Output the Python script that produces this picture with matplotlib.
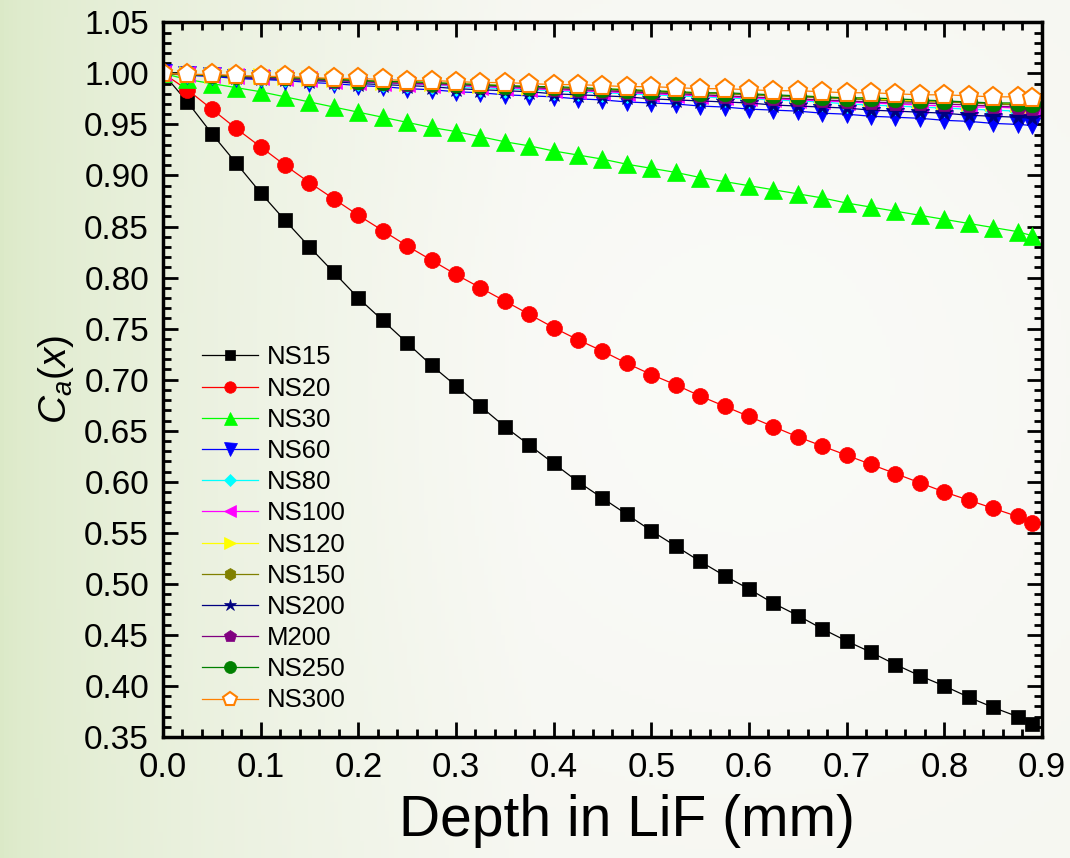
import numpy as np
import matplotlib
matplotlib.use("Agg")
import matplotlib.pyplot as plt
from matplotlib.ticker import MultipleLocator, FormatStrFormatter

plt.rcParams['font.family'] = ['Liberation Sans', 'DejaVu Sans']
plt.rcParams['mathtext.fontset'] = 'custom'
plt.rcParams['mathtext.rm'] = 'Liberation Sans'
plt.rcParams['mathtext.it'] = 'Liberation Sans:italic'

# depth grid (mm)
depth = [0.000, 0.025, 0.050, 0.075, 0.100, 0.125, 0.150, 0.175, 0.200,
         0.225, 0.250, 0.275, 0.300, 0.325, 0.350, 0.375, 0.400, 0.425,
         0.450, 0.475, 0.500, 0.525, 0.550, 0.575, 0.600, 0.625, 0.650,
         0.675, 0.700, 0.725, 0.750, 0.775, 0.800, 0.825, 0.850, 0.875,
         0.890]

ns15 = [1.000, 0.972, 0.941, 0.912, 0.883, 0.856, 0.830, 0.805, 0.780,
        0.758, 0.736, 0.714, 0.694, 0.674, 0.654, 0.636, 0.618, 0.600,
        0.584, 0.568, 0.552, 0.537, 0.522, 0.508, 0.495, 0.481, 0.469,
        0.456, 0.444, 0.433, 0.421, 0.410, 0.400, 0.389, 0.379, 0.370,
        0.363]
ns20 = [1.000, 0.984, 0.965, 0.946, 0.928, 0.910, 0.893, 0.877, 0.861,
        0.846, 0.831, 0.817, 0.803, 0.790, 0.777, 0.764, 0.751, 0.739,
        0.728, 0.716, 0.705, 0.695, 0.684, 0.674, 0.664, 0.654, 0.644,
        0.635, 0.626, 0.617, 0.608, 0.599, 0.590, 0.582, 0.574, 0.566,
        0.560]
ns30 = [1.000, 0.994, 0.990, 0.986, 0.982, 0.977, 0.972, 0.967, 0.962,
        0.957, 0.952, 0.947, 0.943, 0.938, 0.933, 0.929, 0.924, 0.920,
        0.916, 0.911, 0.907, 0.903, 0.898, 0.894, 0.890, 0.886, 0.882,
        0.878, 0.873, 0.869, 0.865, 0.861, 0.857, 0.853, 0.849, 0.845,
        0.841]
ns60 = [1.000, 0.998, 0.997, 0.995, 0.994, 0.993, 0.991, 0.990, 0.988,
        0.987, 0.985, 0.984, 0.982, 0.981, 0.979, 0.978, 0.977, 0.975,
        0.974, 0.972, 0.971, 0.970, 0.968, 0.967, 0.965, 0.964, 0.963,
        0.961, 0.960, 0.958, 0.957, 0.956, 0.954, 0.953, 0.951, 0.950,
        0.949]
ns80 = [1.000, 0.999, 0.998, 0.997, 0.996, 0.995, 0.994, 0.993, 0.992,
        0.991, 0.990, 0.989, 0.987, 0.986, 0.985, 0.984, 0.983, 0.982,
        0.981, 0.980, 0.979, 0.978, 0.977, 0.976, 0.975, 0.974, 0.973,
        0.972, 0.970, 0.969, 0.968, 0.967, 0.966, 0.965, 0.964, 0.963,
        0.962]
ns100 = [1.000, 0.999, 0.998, 0.997, 0.996, 0.995, 0.994, 0.993, 0.992,
         0.991, 0.990, 0.989, 0.988, 0.987, 0.986, 0.985, 0.984, 0.983,
         0.982, 0.981, 0.980, 0.979, 0.978, 0.977, 0.976, 0.975, 0.974,
         0.973, 0.972, 0.971, 0.970, 0.969, 0.968, 0.967, 0.967, 0.966,
         0.965]
ns120 = [1.000, 0.999, 0.998, 0.997, 0.997, 0.996, 0.995, 0.994, 0.993,
         0.992, 0.991, 0.991, 0.990, 0.989, 0.988, 0.987, 0.986, 0.985,
         0.985, 0.984, 0.983, 0.982, 0.981, 0.980, 0.979, 0.978, 0.978,
         0.977, 0.976, 0.975, 0.974, 0.973, 0.972, 0.971, 0.971, 0.970,
         0.969]
ns150 = [1.000, 0.999, 0.998, 0.997, 0.996, 0.996, 0.995, 0.994, 0.993,
         0.992, 0.991, 0.990, 0.989, 0.988, 0.988, 0.987, 0.986, 0.985,
         0.984, 0.983, 0.982, 0.981, 0.980, 0.980, 0.979, 0.978, 0.977,
         0.976, 0.975, 0.974, 0.973, 0.972, 0.972, 0.971, 0.970, 0.969,
         0.968]
ns200 = [1.000, 0.999, 0.998, 0.996, 0.995, 0.994, 0.993, 0.992, 0.990,
         0.989, 0.988, 0.987, 0.985, 0.984, 0.983, 0.982, 0.980, 0.979,
         0.978, 0.977, 0.975, 0.974, 0.973, 0.972, 0.971, 0.969, 0.968,
         0.967, 0.966, 0.964, 0.963, 0.962, 0.961, 0.959, 0.958, 0.957,
         0.956]
m200 = [1.000, 0.999, 0.998, 0.997, 0.996, 0.995, 0.994, 0.993, 0.992,
        0.991, 0.990, 0.990, 0.989, 0.988, 0.987, 0.986, 0.985, 0.984,
        0.983, 0.982, 0.981, 0.980, 0.979, 0.978, 0.977, 0.976, 0.975,
        0.974, 0.973, 0.972, 0.971, 0.971, 0.970, 0.969, 0.968, 0.967,
        0.966]
ns250 = [1.000, 0.999, 0.998, 0.997, 0.997, 0.996, 0.995, 0.994, 0.993,
         0.992, 0.992, 0.991, 0.990, 0.989, 0.988, 0.987, 0.987, 0.986,
         0.985, 0.984, 0.983, 0.982, 0.981, 0.981, 0.980, 0.979, 0.978,
         0.977, 0.976, 0.976, 0.975, 0.974, 0.973, 0.972, 0.971, 0.971,
         0.970]
ns300 = [1.000, 0.999, 0.999, 0.998, 0.997, 0.997, 0.996, 0.995, 0.995,
         0.994, 0.993, 0.993, 0.992, 0.991, 0.991, 0.990, 0.989, 0.989,
         0.988, 0.987, 0.987, 0.986, 0.985, 0.985, 0.984, 0.983, 0.983,
         0.982, 0.981, 0.981, 0.980, 0.979, 0.979, 0.978, 0.977, 0.977,
         0.976]

# (label, values, color, marker, size, face)
series = [
    ("NS15", ns15, "black", "s", 10, None),
    ("NS20", ns20, "red", "o", 11.5, None),
    ("NS30", ns30, "#00ff00", "^", 13, None),
    ("NS60", ns60, "blue", "v", 13, None),
    ("NS80", ns80, "cyan", "D", 9, None),
    ("NS100", ns100, "magenta", "<", 12, None),
    ("NS120", ns120, "yellow", ">", 12, None),
    ("NS150", ns150, "#808000", "h", 12, None),
    ("NS200", ns200, "#000080", "*", 13, None),
    ("M200", m200, "#800080", "p", 13, None),
    ("NS250", ns250, "#008000", "o", 12, None),
    ("NS300", ns300, "#ff8000", "p", 14, "white"),
]

fig = plt.figure(figsize=(10.70, 8.58), dpi=100)

# soft green slide background
bg = fig.add_axes([0, 0, 1, 1], zorder=-5)
h, w = 200, 250
gx, gy = np.meshgrid(np.linspace(0, 1, w), np.linspace(0, 1, h))
t = np.clip(gx / 0.5, 0, 1) ** 0.6
left = np.array([0.86, 0.915, 0.78])
right = np.array([0.965, 0.968, 0.945])
img = left[None, None, :] * (1 - t[..., None]) + right[None, None, :] * t[..., None]
glow = np.exp(-(((gx - 0.7) / 0.35) ** 2 + ((gy - 0.45) / 0.45) ** 2))
img = img + (1 - img) * 0.45 * glow[..., None]
bg.imshow(np.clip(img, 0, 1), aspect='auto', extent=[0, 1, 0, 1])
bg.axis('off')

ax = fig.add_axes([0.1523, 0.141, 0.8215, 0.833])
ax.set_facecolor('none')

for label, vals, color, marker, ms, face in series:
    ax.plot(depth, vals, color=color, lw=0.9, marker=marker, ms=ms,
            mfc=face if face else color, mec=color,
            mew=1.5 if face else 0.5, label=label)

ax.set_xlim(0, 0.9)
ax.set_ylim(0.35, 1.05)
ax.xaxis.set_major_locator(MultipleLocator(0.1))
ax.xaxis.set_minor_locator(MultipleLocator(0.02))
ax.yaxis.set_major_locator(MultipleLocator(0.05))
ax.yaxis.set_minor_locator(MultipleLocator(0.01))
ax.xaxis.set_major_formatter(FormatStrFormatter('%.1f'))
ax.yaxis.set_major_formatter(FormatStrFormatter('%.2f'))

ax.tick_params(which='both', direction='in', top=True, right=True, width=2)
ax.tick_params(which='major', length=11)
ax.tick_params(which='minor', length=6)
ax.tick_params(axis='y', labelsize=24, pad=10)
ax.tick_params(axis='x', labelsize=25, pad=10)
for sp in ax.spines.values():
    sp.set_linewidth(2.5)

ax.set_xlabel("Depth in LiF (mm)", fontsize=41)
ax.xaxis.set_label_coords(0.528, -0.08, transform=ax.transAxes)
ax.xaxis.label.set_va('top')
ax.set_ylabel(r"$C_a(x)$", fontsize=28, labelpad=6)

ax.legend(loc='upper left', bbox_to_anchor=(0.044, 0.548), frameon=False,
          fontsize=18.5, markerscale=0.72, handlelength=2.2, handletextpad=0.35,
          labelspacing=0.28, borderpad=0, borderaxespad=0)

fig.savefig("out.png", dpi=100)
